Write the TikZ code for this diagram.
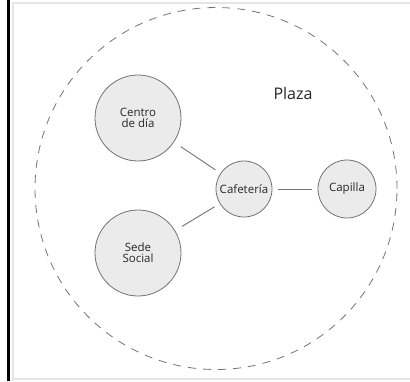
\documentclass[tikz,border=0pt]{standalone}
\usepackage{fontspec}
\setmainfont{Open Sans}
\begin{document}
\begin{tikzpicture}[x=1pt,y=-1pt,
  place/.style={circle,draw=black!55,fill=black!8,line width=0.8pt,inner sep=0pt,align=center,text=black!85,font=\fontsize{11.5}{13}\selectfont},
  link/.style={draw=black!55,line width=0.9pt,shorten <=6pt,shorten >=6pt}]
\useasboundingbox (0,0) rectangle (410,381);
\fill[black] (7,0) rectangle (9.5,381);
\draw[black!10,line width=1.5pt] (13,381) -- (13,3) -- (411,3);
\draw[black!10,line width=1.5pt] (13,379) -- (411,379);
\node[circle,draw=black!55,dash pattern=on 8pt off 7pt,line width=0.8pt,minimum size=362pt,inner sep=0pt] (plaza) at (216,188.5) {};
\node[text=black!85,font=\fontsize{16}{19}\selectfont] (plazalabel) at (293,93) {Plaza};
\node[place,minimum size=86pt] (centro) at (138,118) {Centro\\[-2pt]de día};
\node[place,minimum size=86pt] (sede) at (138,253) {Sede\\[-2pt]Social};
\node[place,minimum size=56pt] (cafe) at (244,189) {Cafetería};
\node[place,minimum size=58pt] (capilla) at (347,189) {Capilla};
\draw[link,shorten <=8pt] (centro) -- (cafe);
\draw[link,shorten <=8pt] (sede) -- (cafe);
\draw[link] (cafe) -- (capilla);
\end{tikzpicture}
\end{document}
